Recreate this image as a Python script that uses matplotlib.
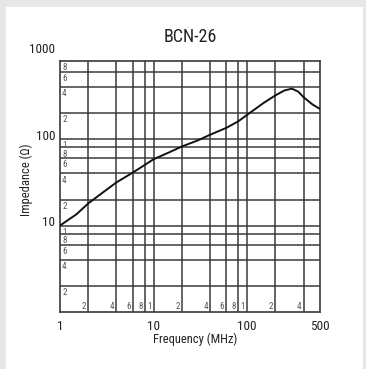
import matplotlib.pyplot as plt
from matplotlib.patches import Rectangle
from matplotlib import font_manager

# narrow sans if there is one, else Liberation Sans
names = {f.name for f in font_manager.fontManager.ttflist}
narrow = [n for n in ['Liberation Sans Narrow', 'Roboto Condensed', 'Open Sans Condensed',
                      'DejaVu Sans Condensed', 'Liberation Sans'] if n in names]
plt.rcParams['font.family'] = narrow[:1] + ['DejaVu Sans']

# impedance curve
freq_mhz = [1, 1.5, 2, 3, 4, 6, 8, 10, 15, 20, 30, 40, 60, 80, 100,
            150, 200, 250, 300, 350, 400, 450, 500, 600]
impedance = [10, 13.5, 18, 25, 31.5, 41, 50, 58.5, 71, 82, 97, 112, 135, 160, 191,
             262, 320, 365, 383, 355, 306, 275, 251, 223]

decades = [1, 10, 100]
grid_steps = [2, 4, 6, 8, 10]
x_max = 600
y_max = 800
x_major = [1, 10, 100, 600]
x_major_labels = ['1', '10', '100', '500']
y_major = [10, 100, 1000]
y_major_labels = ['10', '100', '1000']

W, H = 366, 369
fig = plt.figure(figsize=(W / 100, H / 100), dpi=100)
fig.patch.set_facecolor('#e6e7e9')
fig.add_artist(Rectangle((6 / W, 0), 357 / W, 362 / H, transform=fig.transFigure,
                         facecolor='white', edgecolor='none', zorder=-10))

ax = fig.add_axes([60 / W, 1 - 312 / H, 260 / W, 251 / H])
ax.set_xscale('log')
ax.set_yscale('log')
ax.set_xlim(1, x_max)
ax.set_ylim(1, y_max)
ax.minorticks_off()

line_col = '#3a3a3a'
for s in ax.spines.values():
    s.set_color(line_col)
    s.set_linewidth(1.2)

# grid: 2, 4, 6, 8 and 10 of every decade
xs = [d * m for d in decades for m in grid_steps if d * m < x_max]
ys = [d * m for d in decades for m in grid_steps if d * m < y_max]
for v in xs:
    ax.axvline(v, color=line_col, lw=1.1, zorder=1)
for v in ys:
    ax.axhline(v, color=line_col, lw=1.1, zorder=1)

# small digit labels inside the plot
for v in xs:
    lab = str(round(v / 10 ** (len(str(int(v))) - 1)))
    ax.annotate(lab, (v, 0), xycoords=('data', 'axes fraction'),
                xytext=(-1.5, 1), textcoords='offset points',
                ha='right', va='bottom', fontsize=6.5, color='#555555')
for v in ys + [y_max]:
    lab = str(round(v / 10 ** (len(str(int(v))) - 1)))
    ax.annotate(lab, (0, v), xycoords=('axes fraction', 'data'),
                xytext=(1.5, -1.5), textcoords='offset points',
                ha='left', va='top', fontsize=6.5, color='#555555')

ax.plot(freq_mhz, impedance, color='#111111', lw=1.4, zorder=3)

ax.set_xticks(x_major)
ax.set_xticklabels(x_major_labels)
ax.set_yticks([])
ax.tick_params(axis='x', length=0, pad=6, labelsize=9.5, colors='#222222')
for v, lab in zip(y_major, y_major_labels):
    ax.annotate(lab, (0, v), xycoords=('axes fraction', 'data'),
                xytext=(-3.5, 2), textcoords='offset points',
                ha='right', va='center', fontsize=9.5, color='#222222',
                annotation_clip=False)

ax.set_title('BCN-26', fontsize=13, pad=13.9, color='#222222')
ax.set_xlabel('Frequency (MHz)', fontsize=9, color='#222222')
ax.xaxis.set_label_coords(0.519, -0.083)
ax.set_ylabel('Impedance (Ω)', fontsize=9, color='#222222')
ax.yaxis.set_label_coords(-0.104, 0.528)

fig.savefig('out.png', dpi=100)
